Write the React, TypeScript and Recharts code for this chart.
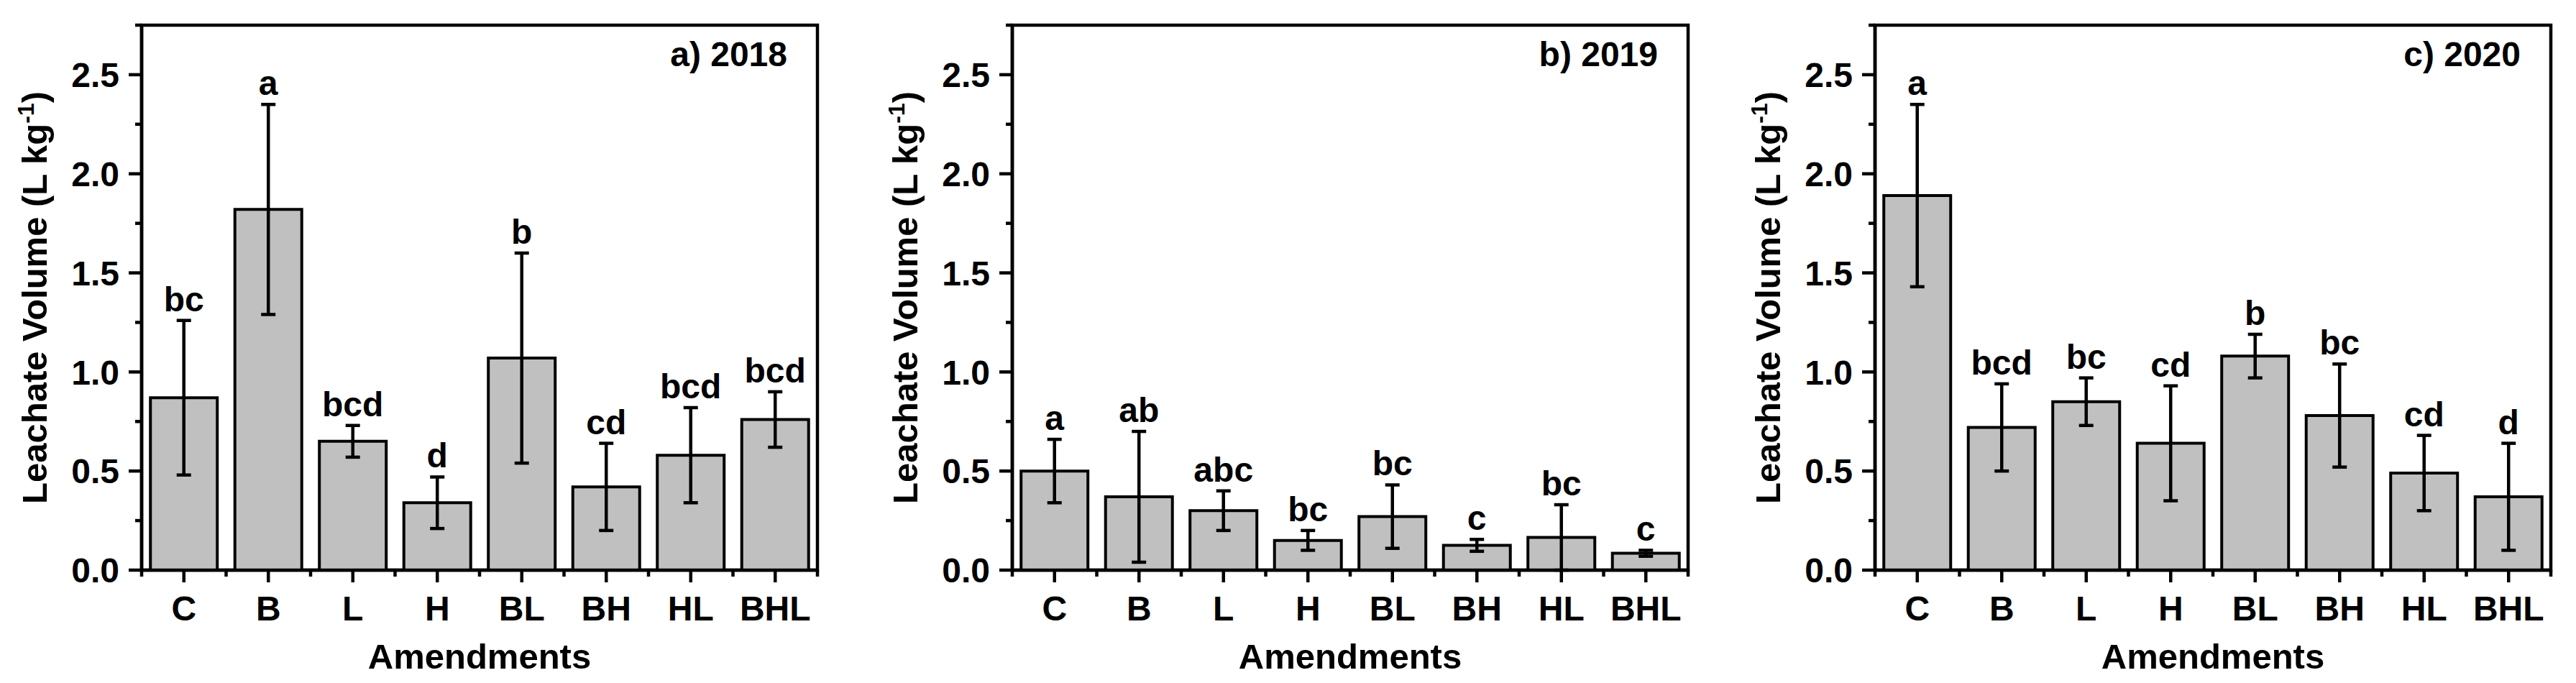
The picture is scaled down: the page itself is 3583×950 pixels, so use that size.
import React from 'react';
import { BarChart, Bar, XAxis, YAxis, ErrorBar, LabelList, ReferenceArea } from 'recharts';

// treatments on the x axis
const amendments = ['C', 'B', 'L', 'H', 'BL', 'BH', 'HL', 'BHL'];

// leachate volume (L kg-1), mean and sd per year
const volume2018 = [0.87, 1.82, 0.65, 0.34, 1.07, 0.42, 0.58, 0.76];
const sd2018 = [0.39, 0.53, 0.08, 0.13, 0.53, 0.22, 0.24, 0.14];
const letters2018 = ['bc', 'a', 'bcd', 'd', 'b', 'cd', 'bcd', 'bcd'];

const volume2019 = [0.5, 0.37, 0.3, 0.15, 0.27, 0.125, 0.165, 0.085];
const sd2019 = [0.16, 0.33, 0.1, 0.05, 0.16, 0.03, 0.165, 0.015];
const letters2019 = ['a', 'ab', 'abc', 'bc', 'bc', 'c', 'bc', 'c'];

const volume2020 = [1.89, 0.72, 0.85, 0.64, 1.08, 0.78, 0.49, 0.37];
const sd2020 = [0.46, 0.22, 0.12, 0.29, 0.11, 0.26, 0.19, 0.27];
const letters2020 = ['a', 'bcd', 'bc', 'cd', 'b', 'bc', 'cd', 'd'];

const yTicks = [0, 0.25, 0.5, 0.75, 1, 1.25, 1.5, 1.75, 2, 2.25, 2.5, 2.75];

const FONT = "Arial, 'Liberation Sans', sans-serif";
const textStyle = { fontFamily: FONT, fontWeight: 700, fontSize: 48, fill: '#000' };

const YTick = (props: any) => {
  const { x, y, payload } = props;
  const v = payload.value;
  const major = Math.abs(v * 2 - Math.round(v * 2)) < 1e-6;
  return (
    <g>
      <line x1={x} x2={x - (major ? 18 : 9)} y1={y} y2={y} stroke="#000" strokeWidth={4.5} />
      {major && (
        <text x={x - 31} y={y} dy="0.36em" textAnchor="end" style={textStyle}>
          {v.toFixed(1)}
        </text>
      )}
    </g>
  );
};

const XTick = (props: any) => {
  const { x, y, payload, index } = props;
  const half = payload.offset || 58.75;
  const last = index === amendments.length - 1;
  return (
    <g>
      <line x1={x} x2={x} y1={y} y2={y + 17} stroke="#000" strokeWidth={4.5} />
      <line x1={x - half} x2={x - half} y1={y} y2={y + 9} stroke="#000" strokeWidth={4.5} />
      {last && <line x1={x + half} x2={x + half} y1={y} y2={y + 9} stroke="#000" strokeWidth={4.5} />}
      <text x={x} y={y + 70} textAnchor="middle" style={textStyle}>
        {payload.value}
      </text>
    </g>
  );
};

interface PanelProps {
  left: number;
  title: string;
  values: number[];
  sds: number[];
  letters: string[];
}

const Panel: React.FC<PanelProps> = ({ left, title, values, sds, letters }) => {
  const rows = amendments.map((name, i) => ({
    name,
    volume: values[i],
    sd: sds[i],
    letter: letters[i],
    pos: i,
  }));

  const renderLetter = (props: any) => {
    const vb = props.viewBox || props;
    const row = rows[props.value];
    if (!row || !vb) return null;
    const pxPerUnit = vb.height / row.volume;
    const errTop = vb.y - row.sd * pxPerUnit;
    return (
      <text x={vb.x + vb.width / 2} y={errTop - 13} textAnchor="middle" style={textStyle}>
        {row.letter}
      </text>
    );
  };

  return (
    <div style={{ position: 'absolute', left, top: 0 }}>
      <BarChart
        width={1153}
        height={950}
        data={rows}
        margin={{ top: 35, right: 16, left: 0, bottom: 0 }}
        barCategoryGap="10.4%"
      >
        <XAxis
          dataKey="name"
          height={157}
          interval={0}
          tickSize={0}
          tickMargin={0}
          tickLine={false}
          axisLine={{ stroke: '#000', strokeWidth: 4.5 }}
          tick={<XTick />}
          label={(p: any) => {
            const vb = p.viewBox;
            return (
              <text x={vb.x + vb.width / 2} y={vb.y + 137} textAnchor="middle" style={{ ...textStyle, fontSize: 49 }}>
                Amendments
              </text>
            );
          }}
        />
        <YAxis
          width={197}
          domain={[0, 2.75]}
          ticks={yTicks}
          interval={0}
          tickSize={0}
          tickMargin={0}
          tickLine={false}
          axisLine={{ stroke: '#000', strokeWidth: 4.5 }}
          tick={<YTick />}
          label={(p: any) => {
            const vb = p.viewBox;
            const tx = vb.x + vb.width - 132;
            const ty = vb.y + vb.height / 2;
            return (
              <text x={tx} y={ty} transform={`rotate(-90, ${tx}, ${ty})`} textAnchor="middle" style={{ ...textStyle, fontSize: 49 }}>
                Leachate Volume (L kg
                <tspan dy={-18} fontSize={32}>-1</tspan>
                <tspan dy={18}>)</tspan>
              </text>
            );
          }}
        />
        <Bar dataKey="volume" fill="#c0c0c0" stroke="#000" strokeWidth={4} isAnimationActive={false}>
          <ErrorBar dataKey="sd" width={10} stroke="#000" strokeWidth={4.5} direction="y" isAnimationActive={false} />
          <LabelList dataKey="pos" content={renderLetter} />
        </Bar>
        {/* frame around the plot, with the panel title in its top right corner */}
        <ReferenceArea
          y1={0}
          y2={2.75}
          fill="none"
          fillOpacity={0}
          stroke="#000"
          strokeWidth={4.5}
          label={(p: any) => {
            const vb = p.viewBox;
            return (
              <text x={vb.x + vb.width - 42} y={vb.y + 57} textAnchor="end" style={textStyle}>
                {title}
              </text>
            );
          }}
        />
      </BarChart>
    </div>
  );
};

export default function App() {
  return (
    <div style={{ position: 'absolute', left: 0, top: 0, width: 3583, height: 950, background: '#fff' }}>
      <Panel left={0} title="a) 2018" values={volume2018} sds={sd2018} letters={letters2018} />
      <Panel left={1211} title="b) 2019" values={volume2019} sds={sd2019} letters={letters2019} />
      <Panel left={2411} title="c) 2020" values={volume2020} sds={sd2020} letters={letters2020} />
    </div>
  );
}
